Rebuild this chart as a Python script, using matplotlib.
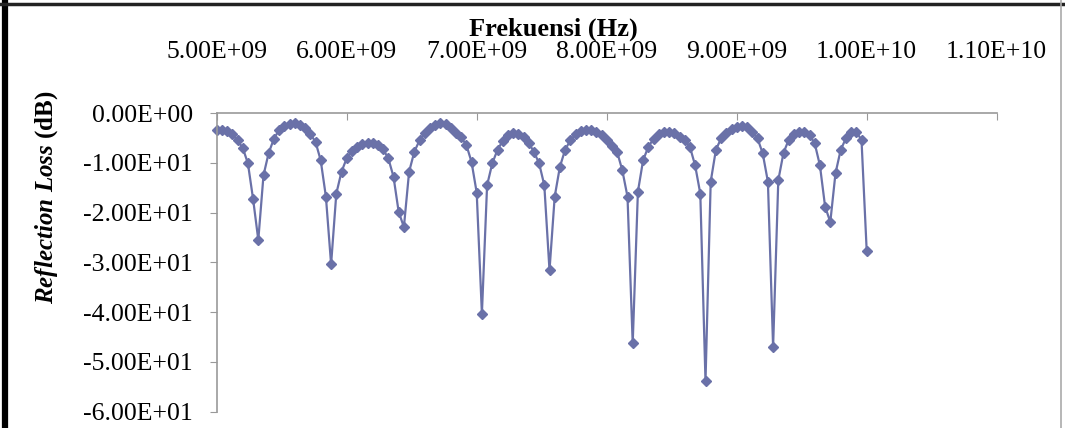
import matplotlib
matplotlib.use('Agg')
import matplotlib.pyplot as plt
from matplotlib.lines import Line2D
from matplotlib.ticker import FuncFormatter

# frekuensi (GHz) dan reflection loss (dB)
freq_ghz = [5.00, 5.04, 5.08, 5.12, 5.16, 5.20, 5.24, 5.28, 5.32,
            5.36, 5.40, 5.44, 5.48, 5.52, 5.56, 5.60, 5.64, 5.68, 5.72, 5.76, 5.80, 5.84, 5.88,
            5.92, 5.96, 6.00, 6.04, 6.08, 6.12, 6.16, 6.20, 6.24, 6.28, 6.32, 6.36, 6.40, 6.44,
            6.48, 6.52, 6.56, 6.60, 6.64, 6.68, 6.72, 6.76, 6.80, 6.84, 6.88, 6.92, 6.96, 7.00, 7.04,
            7.08, 7.12, 7.16, 7.20, 7.24, 7.28, 7.32, 7.36, 7.40, 7.44, 7.48, 7.52, 7.56,
            7.60, 7.64, 7.68, 7.72, 7.76, 7.80, 7.84, 7.88, 7.92, 7.96, 8.00, 8.04, 8.08, 8.12, 8.16, 8.20,
            8.24, 8.28, 8.32, 8.36, 8.40, 8.44, 8.48, 8.52, 8.56, 8.60, 8.64, 8.68, 8.72, 8.76,
            8.80, 8.84, 8.88, 8.92, 8.96, 9.00, 9.04, 9.08, 9.12, 9.16, 9.20, 9.24, 9.28,
            9.32, 9.36, 9.40, 9.44, 9.48, 9.52, 9.56, 9.60, 9.64, 9.68, 9.72,
            9.76, 9.80, 9.84, 9.88, 9.92, 9.96, 10.00]
rl_db = [-3.5, -3.4, -3.7, -4.3, -5.5, -7.0, -10.1, -17.3, -25.5,
         -12.5, -8.0, -5.2, -3.4, -2.6, -2.2, -2.1, -2.4, -3.1, -4.2, -5.8, -9.5, -16.8, -30.4,
         -16.2, -11.8, -9.1, -7.6, -6.8, -6.3, -6.1, -6.1, -6.4, -7.3, -9.1, -12.8, -19.9, -22.9,
         -11.8, -7.8, -5.5, -4.0, -3.0, -2.4, -2.1, -2.3, -3.0, -4.0, -4.9, -6.4, -9.8, -16.0, -40.3,
         -14.5, -10.1, -7.4, -5.6, -4.5, -4.1, -4.2, -4.8, -6.0, -7.8, -10.1, -14.5, -31.6,
         -16.8, -10.8, -7.4, -5.5, -4.3, -3.7, -3.4, -3.4, -3.8, -4.5, -5.5, -6.6, -7.8, -11.5, -16.8, -46.3,
         -15.8, -9.5, -6.8, -5.2, -4.3, -3.9, -3.8, -4.1, -4.8, -5.4, -6.8, -10.5, -16.2, -53.9,
         -13.8, -7.4, -5.1, -4.0, -3.3, -2.9, -2.7, -2.8, -3.8, -5.1, -8.1, -13.8, -47.0,
         -13.5, -8.0, -5.4, -4.3, -3.8, -3.9, -4.4, -6.1, -10.5, -18.8, -21.9,
         -12.1, -7.4, -5.1, -3.9, -3.8, -5.4, -27.7]
x_ticks = [5e9, 6e9, 7e9, 8e9, 9e9, 1e10, 1.1e10]
y_ticks = [0, -10, -20, -30, -40, -50, -60]

freq_hz = [f * 1e9 for f in freq_ghz]

plt.rcParams['font.family'] = 'Liberation Serif'
plt.rcParams['mathtext.fontset'] = 'custom'
plt.rcParams['mathtext.it'] = 'Liberation Serif:italic:bold'
plt.rcParams['mathtext.rm'] = 'Liberation Serif:bold'

W, H = 1065, 428
fig = plt.figure(figsize=(W / 100, H / 100), dpi=100)
ax = fig.add_axes([216.7 / W, 1 - 411.7 / H, 780 / W, 298.7 / H])

ax.plot(freq_hz, rl_db, color='#6a71a8', lw=1.6, marker='D', markersize=5.5,
        markerfacecolor='#6a71a8', markeredgecolor='#6a71a8', clip_on=False)

ax.set_xlim(5e9, 1.1e10)
ax.set_ylim(-60, 0)
ax.set_xticks(x_ticks)
ax.set_yticks(y_ticks)
fmt = FuncFormatter(lambda v, p: '{:.2E}'.format(v))
ax.xaxis.set_major_formatter(fmt)
ax.yaxis.set_major_formatter(fmt)
ax.xaxis.tick_top()
ax.tick_params(axis='x', direction='in', length=5, color='#999999', labelsize=18.5, pad=36)
ax.tick_params(axis='y', direction='out', length=5, color='#999999', labelsize=18.5, pad=12)

for s in ['bottom', 'right']:
    ax.spines[s].set_visible(False)
for s in ['top', 'left']:
    ax.spines[s].set_color('#999999')
    ax.spines[s].set_linewidth(1.2)

# judul sumbu
fig.text(553 / W, 1 - 29 / H, 'Frekuensi (Hz)', ha='center', va='center',
         fontsize=19, fontweight='bold')
fig.text(47 / W, 1 - 197 / H, r'$\mathit{Reflection\ Loss}$ (dB)', ha='center', va='center',
         rotation=90, fontsize=18, fontweight='bold')

# bingkai hasil scan
fig.add_artist(Line2D([5 / W, 5 / W], [0, 1], color='black', lw=4.5, transform=fig.transFigure))
fig.add_artist(Line2D([0, 1], [1 - 4 / H, 1 - 4 / H], color='#222222', lw=2.5, transform=fig.transFigure))
fig.add_artist(Line2D([1061 / W, 1061 / W], [0, 1], color='#aaaaaa', lw=1.2, transform=fig.transFigure))

plt.savefig('out.png', dpi=100)
